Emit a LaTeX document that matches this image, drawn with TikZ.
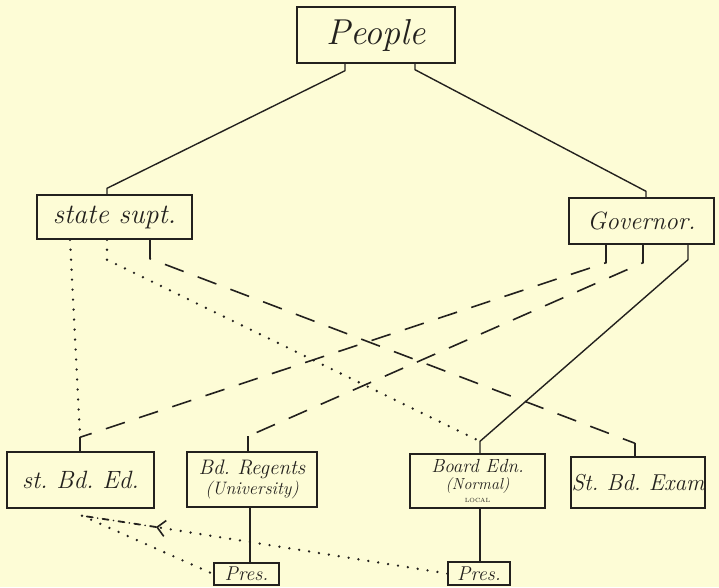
\documentclass[tikz,border=0pt]{standalone}
\usetikzlibrary{arrows.meta}
\definecolor{paper}{RGB}{253,252,214}
\definecolor{ink}{RGB}{35,33,30}
\tikzset{
  box/.style={draw=ink, line width=1.4pt, inner sep=0pt, align=center,
              font=\itshape, text=ink},
  solidlink/.style={draw=ink, line width=1.4pt},
  dashlink/.style={draw=ink, line width=1.6pt, dash pattern=on 20pt off 15pt},
  dotlink/.style={draw=ink, line width=2.6pt, line cap=round, dash pattern=on 0pt off 10pt},
  dashdotlink/.style={draw=ink, line width=1.8pt, line cap=round,
                      dash pattern=on 6pt off 5pt on 0pt off 5pt},
}
\newcommand{\fs}[1]{\fontsize{#1}{#1}\selectfont}
\frenchspacing
\begin{document}
\begin{tikzpicture}[x=1pt,y=-1pt]
  \fill[paper] (0,0) rectangle (719,587);
  \useasboundingbox (0,0) rectangle (719,587);

  % offices
  \node[box, minimum width=158pt, minimum height=56pt] (people)    at (376,35)    {\fs{36}People};
  \node[box, minimum width=155pt, minimum height=44pt] (supt)      at (114.5,217) {\fs{28}state supt.};
  \node[box, minimum width=145pt, minimum height=46pt] (gov)       at (641.5,221) {\fs{25}Governor.};
  \node[box, minimum width=147pt, minimum height=56pt] (stbded)    at (80.5,480)  {\fs{25}st. Bd. Ed.};
  \node[box, minimum width=130pt, minimum height=55pt] (regents)   at (252,479.5) {\fs{21}Bd. Regents\\[1pt]\fs{18}(University)};
  \node[box, minimum width=135pt, minimum height=54pt] (boardedn)  at (477.5,481) {\fs{19}Board Edn.\\[3pt]\fs{16}(Normal)\\[1pt]\fs{6}\upshape LOCAL};
  \node[box, minimum width=134pt, minimum height=51pt] (exam)      at (638,482.5) {\fs{23}St. Bd. Exam};
  \node[box, minimum width=65pt,  minimum height=22pt] (pres1)     at (246.5,574) {\fs{20}Pres.};
  \node[box, minimum width=62pt,  minimum height=23pt] (pres2)     at (479,573.5) {\fs{20}Pres.};

  % People to the two elected offices
  \draw[solidlink] ([xshift=-31pt]people.south) -- ++(0,7)
        -- ([xshift=-7.5pt,yshift=6pt]supt.north) -- ([xshift=-7.5pt]supt.north);
  \draw[solidlink] ([xshift=39pt]people.south) -- ++(0,6)
        -- ([xshift=4.5pt,yshift=6pt]gov.north) -- ([xshift=4.5pt]gov.north);

  % Governor appointments
  \draw[solidlink] ([xshift=46.5pt]gov.south) -- ++(0,15)
        -- ([xshift=2.5pt,yshift=12pt]boardedn.north) -- ([xshift=2.5pt]boardedn.north);
  \draw[dashlink] ([xshift=-35.5pt]gov.south) -- ++(0,18)
        -- ([xshift=-0.5pt,yshift=14pt]stbded.north);
  \draw[dashlink] ([xshift=1.5pt]gov.south) -- ++(0,18)
        -- ([xshift=-4pt,yshift=15pt]regents.north);

  % stubs on the lower boxes
  \draw[solidlink] ([xshift=-0.5pt,yshift=14pt]stbded.north) -- ([xshift=-0.5pt]stbded.north);
  \draw[solidlink] ([xshift=-4pt,yshift=15pt]regents.north) -- ([xshift=-4pt]regents.north);
  \draw[solidlink] ([xshift=-3pt,yshift=13pt]exam.north) -- ([xshift=-3pt]exam.north);

  % State superintendent relations
  \draw[dotlink] ([xshift=-44.5pt]supt.south) -- ([xshift=-0.5pt,yshift=16pt]stbded.north);
  \draw[dotlink] ([xshift=-7.5pt]supt.south) -- ++(0,20)
        -- ([xshift=2.5pt,yshift=12pt]boardedn.north);
  \draw[dashlink] ([xshift=35.5pt]supt.south) -- ++(0,19)
        -- ([xshift=-3pt,yshift=13pt]exam.north);

  % presidents
  \coordinate (rb) at ([xshift=-2pt]regents.south);
  \draw[solidlink] (rb) -- (rb |- pres1.north);
  \coordinate (bb) at ([xshift=2.5pt]boardedn.south);
  \draw[solidlink] (bb) -- (bb |- pres2.north);

  % reports back to the state board
  \coordinate (sb) at ([xshift=1.5pt,yshift=-7pt]stbded.south);
  \coordinate (tip) at (156,527);
  \draw[dotlink, -{Straight Barb[length=8pt,width=16pt,line width=1.6pt]}] (pres2.west) -- (tip);
  \draw[dashdotlink] (tip) -- (sb);
  \draw[dotlink] (sb) -- (pres1.west);
\end{tikzpicture}
\end{document}
